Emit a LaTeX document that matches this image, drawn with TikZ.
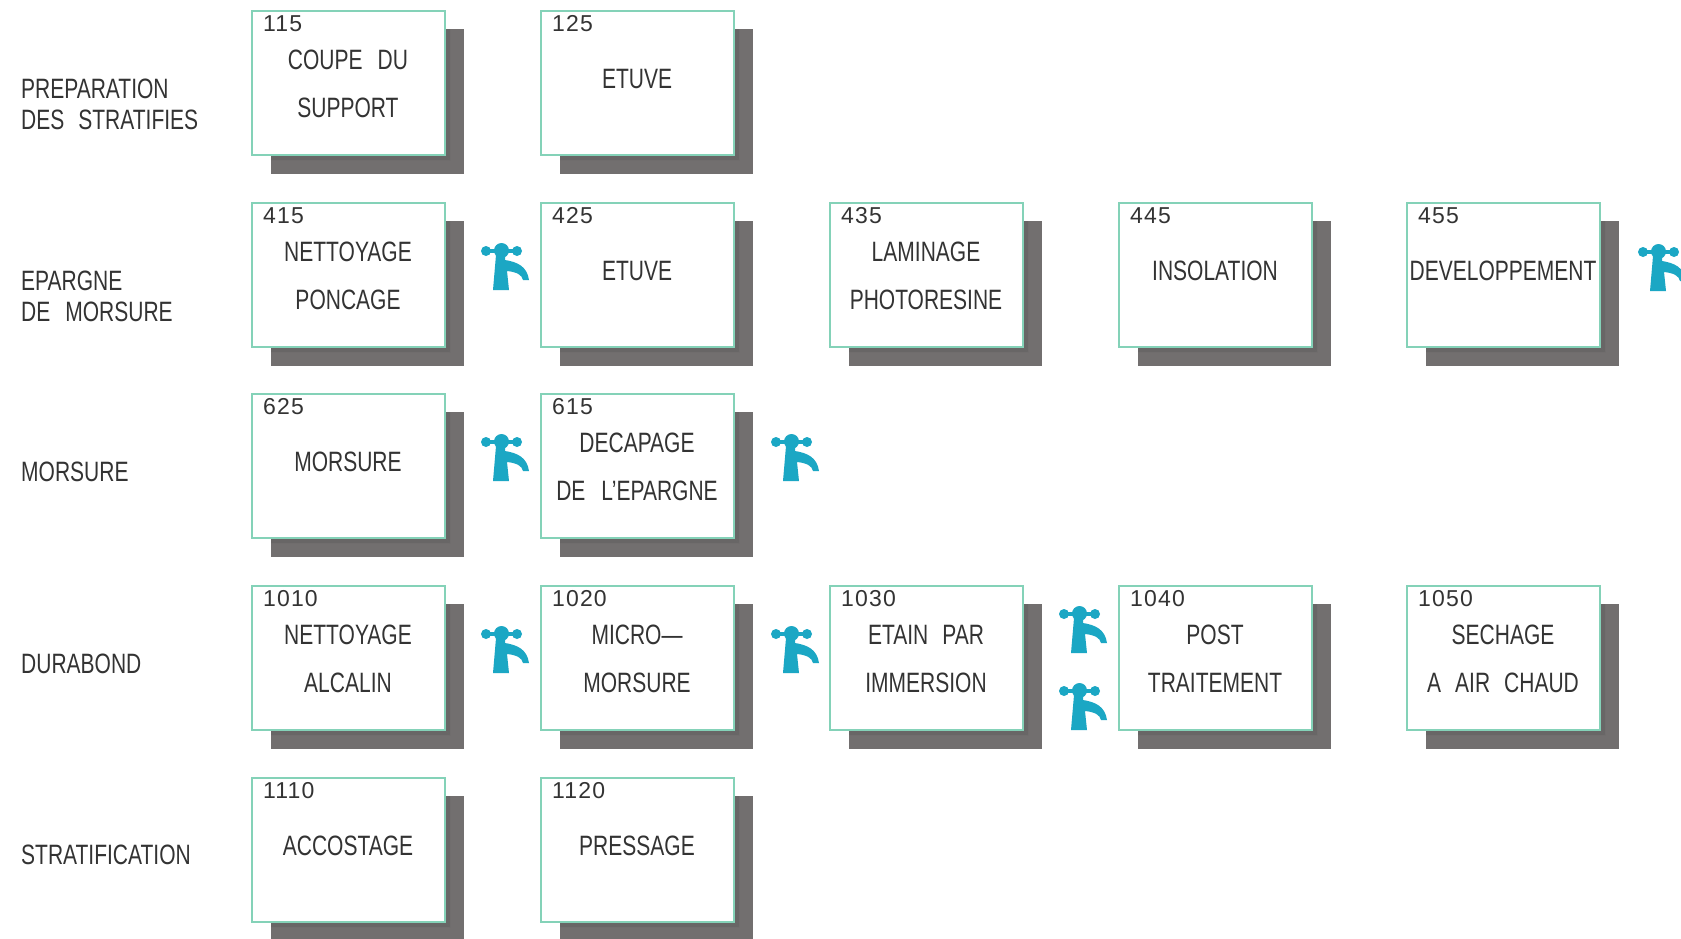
\documentclass[tikz,border=0pt]{standalone}
\usepackage{fontspec}
\setmainfont{Liberation Sans}
\newfontfamily\narrowfont[FakeStretch=0.75]{Liberation Sans}
\newfontfamily\numfont[LetterSpace=5]{Liberation Sans}
\definecolor{edgeteal}{HTML}{84D2B8}
\definecolor{shadowgray}{HTML}{726F6F}
\definecolor{shadowdark}{HTML}{686666}
\definecolor{tapblue}{HTML}{1BA7C4}
\definecolor{inkgray}{HTML}{333333}
\tikzset{
  cardbox/.style={draw=edgeteal,line width=1.8pt,fill=white,minimum width=193pt,minimum height=144pt,anchor=north west,inner sep=0pt,outer sep=0pt},
  cardshadow/.style={fill=shadowgray,draw=none},
  cardshadowedge/.style={fill=shadowdark,draw=none},
  cardnum/.style={anchor=base west,inner sep=0pt,text=inkgray,font=\numfont\fontsize{23}{23}\selectfont},
  cardtext/.style={anchor=center,inner sep=0pt,text=inkgray,font=\narrowfont\fontsize{28}{28}\selectfont},
  rowlabel/.style={anchor=west,inner sep=0pt,text=inkgray,font=\narrowfont\fontsize{28}{28}\selectfont},
}
% #1 name, #2 x, #3 y, #4 number
\newcommand{\cardbase}[4]{%
  \fill[cardshadow] (#2+19,#3+18) rectangle (#2+212,#3+163);
  \fill[cardshadowedge] (#2+19,#3+144) -- (#2+193,#3+144) -- (#2+198,#3+149) -- (#2+19,#3+149) -- cycle;
  \fill[cardshadowedge] (#2+193,#3+18) -- (#2+198,#3+18) -- (#2+198,#3+149) -- (#2+193,#3+144) -- cycle;
  \node[cardbox] (#1) at (#2,#3) {};
  \node[cardnum] (#1num) at (#2+11,#3+20) {#4};
}
\newcommand{\cardone}[5]{%
  \cardbase{#1}{#2}{#3}{#4}
  \node[cardtext] (#1a) at (#2+96,#3+68) {#5};
}
\newcommand{\cardtwo}[6]{%
  \cardbase{#1}{#2}{#3}{#4}
  \node[cardtext] (#1a) at (#2+96,#3+49) {#5};
  \node[cardtext] (#1b) at (#2+96,#3+96.5) {#6};
}
\newcommand{\tap}[2]{%
  \begin{scope}[shift={(#1,#2)}]
    \fill[tapblue] (5,8) circle (5);
    \fill[tapblue] (36,8) circle (5);
    \fill[tapblue] (5,6) rectangle (36,10);
    \fill[tapblue] (20.5,7.5) circle (7.5);
    \fill[tapblue] (15,12) -- (24,12) -- (24,17)
      .. controls (36,19) and (46,23) .. (48,37)
      -- (42,37)
      .. controls (41,32) and (36,29) .. (26,28)
      -- (28,47) -- (12,47) -- cycle;
  \end{scope}
}
\begin{document}
\begin{tikzpicture}[x=1pt,y=-1pt]
\useasboundingbox (0,0) rectangle (1681,938);
\clip (0,0) rectangle (1681,938);
\fill[white] (0,0) rectangle (1681,938);

\node[rowlabel] (l1a) at (21,89) {PREPARATION};
\node[rowlabel] (l1b) at (21,120) {DES\hspace{14pt}STRATIFIES};
\node[rowlabel] (l2a) at (21,281) {EPARGNE};
\node[rowlabel] (l2b) at (21,312) {DE\hspace{15pt}MORSURE};
\node[rowlabel] (l3) at (21,472) {MORSURE};
\node[rowlabel] (l4) at (21,664) {DURABOND};
\node[rowlabel] (l5) at (21,855) {STRATIFICATION};

\cardtwo{a115}{252}{11}{115}{COUPE\hspace{15pt}DU}{SUPPORT}
\cardone{a125}{541}{11}{125}{ETUVE}

\cardtwo{b415}{252}{203}{415}{NETTOYAGE}{PONCAGE}
\cardone{b425}{541}{203}{425}{ETUVE}
\cardtwo{b435}{830}{203}{435}{LAMINAGE}{PHOTORESINE}
\cardone{b445}{1119}{203}{445}{INSOLATION}
\cardone{b455}{1407}{203}{455}{DEVELOPPEMENT}

\cardone{c625}{252}{394}{625}{MORSURE}
\cardtwo{c615}{541}{394}{615}{DECAPAGE}{DE\hspace{16pt}L’EPARGNE}

\cardtwo{d1010}{252}{586}{1010}{NETTOYAGE}{ALCALIN}
\cardtwo{d1020}{541}{586}{1020}{MICRO—}{MORSURE}
\cardtwo{d1030}{830}{586}{1030}{ETAIN\hspace{14pt}PAR}{IMMERSION}
\cardtwo{d1040}{1119}{586}{1040}{POST}{TRAITEMENT}
\cardtwo{d1050}{1407}{586}{1050}{SECHAGE}{A\hspace{14pt}AIR\hspace{14pt}CHAUD}

\cardone{e1110}{252}{778}{1110}{ACCOSTAGE}
\cardone{e1120}{541}{778}{1120}{PRESSAGE}

\tap{481}{243}
\tap{1638}{244}
\tap{481}{434}
\tap{771}{434}
\tap{481}{626}
\tap{771}{626}
\tap{1059}{606}
\tap{1059}{683}
\end{tikzpicture}
\end{document}
